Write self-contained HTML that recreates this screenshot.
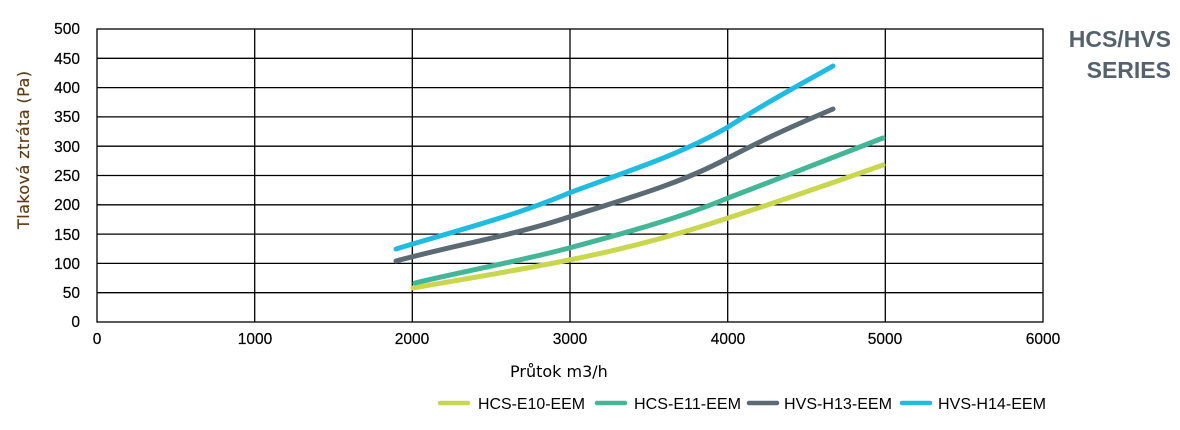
<!DOCTYPE html>
<html><head><meta charset="utf-8"><style>
body{margin:0;background:#fff;}
svg text{font-family:"Liberation Sans",sans-serif;}
</style></head><body>
<svg width="1180" height="425" xmlns="http://www.w3.org/2000/svg">
<g stroke="#000" stroke-width="1.3" fill="none">
<rect x="97" y="29" width="946" height="293"/>
<line x1="97" x2="1043" y1="58.3" y2="58.3"/>
<line x1="97" x2="1043" y1="87.6" y2="87.6"/>
<line x1="97" x2="1043" y1="116.9" y2="116.9"/>
<line x1="97" x2="1043" y1="146.2" y2="146.2"/>
<line x1="97" x2="1043" y1="175.5" y2="175.5"/>
<line x1="97" x2="1043" y1="204.8" y2="204.8"/>
<line x1="97" x2="1043" y1="234.1" y2="234.1"/>
<line x1="97" x2="1043" y1="263.4" y2="263.4"/>
<line x1="97" x2="1043" y1="292.7" y2="292.7"/>
<line y1="29" y2="322" x1="254.7" x2="254.7"/>
<line y1="29" y2="322" x1="412.3" x2="412.3"/>
<line y1="29" y2="322" x1="570" x2="570"/>
<line y1="29" y2="322" x1="727.7" x2="727.7"/>
<line y1="29" y2="322" x1="885.3" x2="885.3"/>
</g>
<g font-size="15.5" fill="#000" text-anchor="end" stroke="#000" stroke-width="0.2">
<text x="80" y="34">500</text><text x="80" y="64">450</text><text x="80" y="93">400</text>
<text x="80" y="122">350</text><text x="80" y="152">300</text><text x="80" y="181">250</text>
<text x="80" y="210">200</text><text x="80" y="240">150</text><text x="80" y="269">100</text>
<text x="80" y="298">50</text><text x="80" y="327">0</text>
</g>
<g font-size="15.5" fill="#000" text-anchor="middle" stroke="#000" stroke-width="0.2">
<text x="97" y="344">0</text><text x="255" y="344">1000</text><text x="412" y="344">2000</text>
<text x="570" y="344">3000</text><text x="728" y="344">4000</text><text x="885" y="344">5000</text>
<text x="1043" y="344">6000</text>
</g>
<text transform="translate(29,150) rotate(-90)" text-anchor="middle" font-size="16" fill="#5e3d12" stroke="#5e3d12" stroke-width="0.2" style="font-family:'DejaVu Sans',sans-serif" textLength="158">Tlaková ztráta (Pa)</text>
<text x="510" y="377" font-size="16" fill="#000" style="font-family:'DejaVu Sans',sans-serif">Průtok m3/h</text>
<g font-size="23" font-weight="bold" fill="#56626b" text-anchor="end">
<text x="1171" y="47">HCS/HVS</text><text x="1171" y="78">SERIES</text>
</g>
<g fill="none" stroke-width="5" stroke-linecap="round">
<path stroke="#c9d74e" d="M413,288 C470,278 520,270 569,260 C625,249 680,234 728,218 C780,201 835,182 883,165"/>
<path stroke="#42b696" d="M415,283 C470,270 520,261 569,248 C625,233 680,218 728,198 C780,178 835,157 883,138"/>
<path stroke="#5b6b73" d="M396,261 C455,245 515,235 569,217 C625,199 680,184 728,158 C770,136 800,123 833,109"/>
<path stroke="#1fbbe0" d="M396,249 C455,231 515,216 569,193 C625,172 680,155 728,127 C770,100 805,82 833,66"/>
</g>
<g stroke-width="4.5" stroke-linecap="round">
<line x1="440" x2="468" y1="403" y2="403" stroke="#c9d74e"/>
<line x1="597" x2="625" y1="403" y2="403" stroke="#42b696"/>
<line x1="749" x2="777" y1="403" y2="403" stroke="#5b6b73"/>
<line x1="902" x2="930" y1="403" y2="403" stroke="#1fbbe0"/>
</g>
<g font-size="15.5" fill="#000">
<text x="478" y="409" textLength="107" lengthAdjust="spacingAndGlyphs">HCS-E10-EEM</text>
<text x="634" y="409" textLength="107" lengthAdjust="spacingAndGlyphs">HCS-E11-EEM</text>
<text x="784" y="409" textLength="108" lengthAdjust="spacingAndGlyphs">HVS-H13-EEM</text>
<text x="938" y="409" textLength="108" lengthAdjust="spacingAndGlyphs">HVS-H14-EEM</text>
</g>
</svg>
</body></html>
